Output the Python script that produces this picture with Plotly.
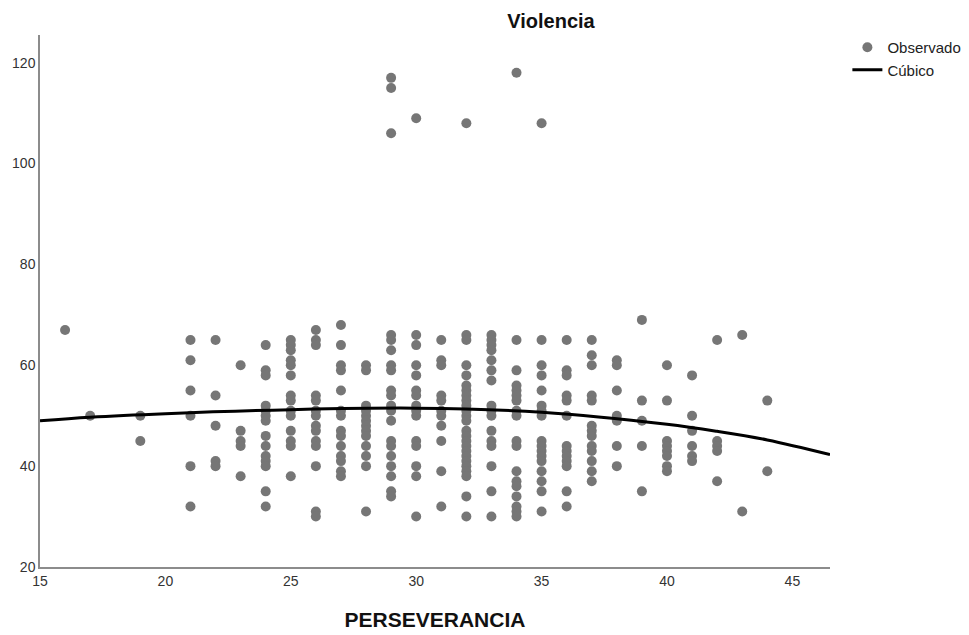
import plotly.graph_objects as go

# Observed points: PERSEVERANCIA (x) and Violencia (y)
perseverancia = (
    [16] + [17] + [19] * 2 + [21] * 6 + [22] * 5 + [23] * 5 + [24] * 14 + [25] * 14
    + [26] * 14 + [27] * 14 + [28] * 13 + [29] * 20 + [30] * 15 + [31] * 11
    + [32] * 25 + [33] * 16 + [34] * 18 + [35] * 17 + [36] * 13 + [37] * 13
    + [38] * 7 + [39] * 5 + [40] * 8 + [41] * 6 + [42] * 5 + [43] * 2 + [44] * 2
)
violencia = [
    67,
    50,
    50, 45,
    65, 61, 55, 50, 40, 32,
    65, 54, 48, 41, 40,
    60, 47, 45, 44, 38,
    64, 59, 58, 52, 51, 50, 49, 46, 44, 42, 41, 40, 35, 32,
    65, 64, 63, 61, 60, 58, 54, 53, 51, 50, 47, 45, 44, 38,
    67, 65, 64, 54, 53, 51, 50, 48, 47, 45, 44, 40, 31, 30,
    68, 64, 60, 59, 55, 51, 50, 47, 46, 44, 42, 41, 39, 38,
    60, 59, 52, 51, 50, 49, 48, 47, 46, 44, 42, 40, 31,
    117, 115, 106, 66, 65, 63, 60, 59, 55, 54, 52, 51, 49, 45, 44, 42, 40, 38, 35, 34,
    109, 66, 64, 60, 58, 55, 54, 52, 51, 50, 45, 44, 40, 38, 30,
    65, 61, 60, 54, 53, 51, 50, 48, 45, 39, 32,
    108, 66, 65, 60, 58, 56, 55, 54, 53, 52, 51, 50, 49, 47, 46, 45, 44, 43, 42, 41, 40, 39, 38, 34, 30,
    66, 65, 64, 63, 61, 59, 57, 52, 51, 50, 47, 45, 44, 40, 35, 30,
    118, 65, 59, 56, 55, 54, 53, 51, 50, 45, 44, 39, 37, 36, 34, 32, 31, 30,
    108, 65, 60, 58, 55, 52, 51, 50, 45, 44, 43, 42, 41, 39, 37, 35, 31,
    65, 59, 58, 54, 53, 50, 44, 43, 42, 41, 40, 35, 32,
    65, 62, 60, 54, 53, 48, 47, 46, 44, 43, 41, 39, 37,
    61, 60, 55, 50, 49, 44, 40,
    69, 53, 49, 44, 35,
    60, 53, 45, 44, 43, 42, 40, 39,
    58, 50, 47, 44, 42, 41,
    65, 45, 44, 43, 37,
    66, 31,
    53, 39,
]

# Cubic fit curve
cubic_x = [15, 17, 20, 25, 30, 35, 40, 42, 44, 46.5]
cubic_y = [49.0, 49.7, 50.4, 51.2, 51.5, 50.7, 48.3, 46.9, 45.2, 42.3]

x_ticks = [15, 20, 25, 30, 35, 40, 45]
y_ticks = [20, 40, 60, 80, 100, 120]

FONT = "Liberation Sans, Arial, sans-serif"

fig = go.Figure()
fig.add_trace(go.Scatter(
    x=perseverancia, y=violencia, mode="markers", name="Observado",
    marker=dict(color="#767676", size=10, line=dict(width=0)),
))
fig.add_trace(go.Scatter(
    x=cubic_x, y=cubic_y, mode="lines", name="Cúbico",
    line=dict(color="black", width=3, shape="spline"),
))

fig.update_layout(
    width=969, height=635,
    paper_bgcolor="white", plot_bgcolor="white",
    margin=dict(l=32, r=147, t=27, b=76, autoexpand=False),
    font=dict(family=FONT, size=14, color="#222"),
    title=dict(text="<b>Violencia</b>", x=543 / 969, xref="container", xanchor="center",
               y=1 - 13 / 635, yref="container", yanchor="middle",
               font=dict(size=20, color="#111")),
    legend=dict(x=1.022, xanchor="left", y=1.0075, yanchor="top",
                font=dict(size=15, color="#222"), tracegroupgap=0,
                bgcolor="rgba(0,0,0,0)"),
    showlegend=True,
)
fig.update_xaxes(
    range=[15, 46.5], tickvals=x_ticks, showgrid=False, zeroline=False,
    showline=True, linecolor="#8c8c8c", linewidth=1.5, ticks="", automargin=False,
    tickfont=dict(size=14, color="#333"),
    title=dict(text="<b>PERSEVERANCIA</b>", font=dict(size=21, color="#111"), standoff=25),
)
fig.update_yaxes(
    range=[20, 125.5], tickvals=y_ticks, showgrid=False, zeroline=False,
    showline=True, linecolor="#8c8c8c", linewidth=1.5, ticks="", automargin=False,
    tickfont=dict(size=14, color="#333"),
)

fig.write_html("out.html")
